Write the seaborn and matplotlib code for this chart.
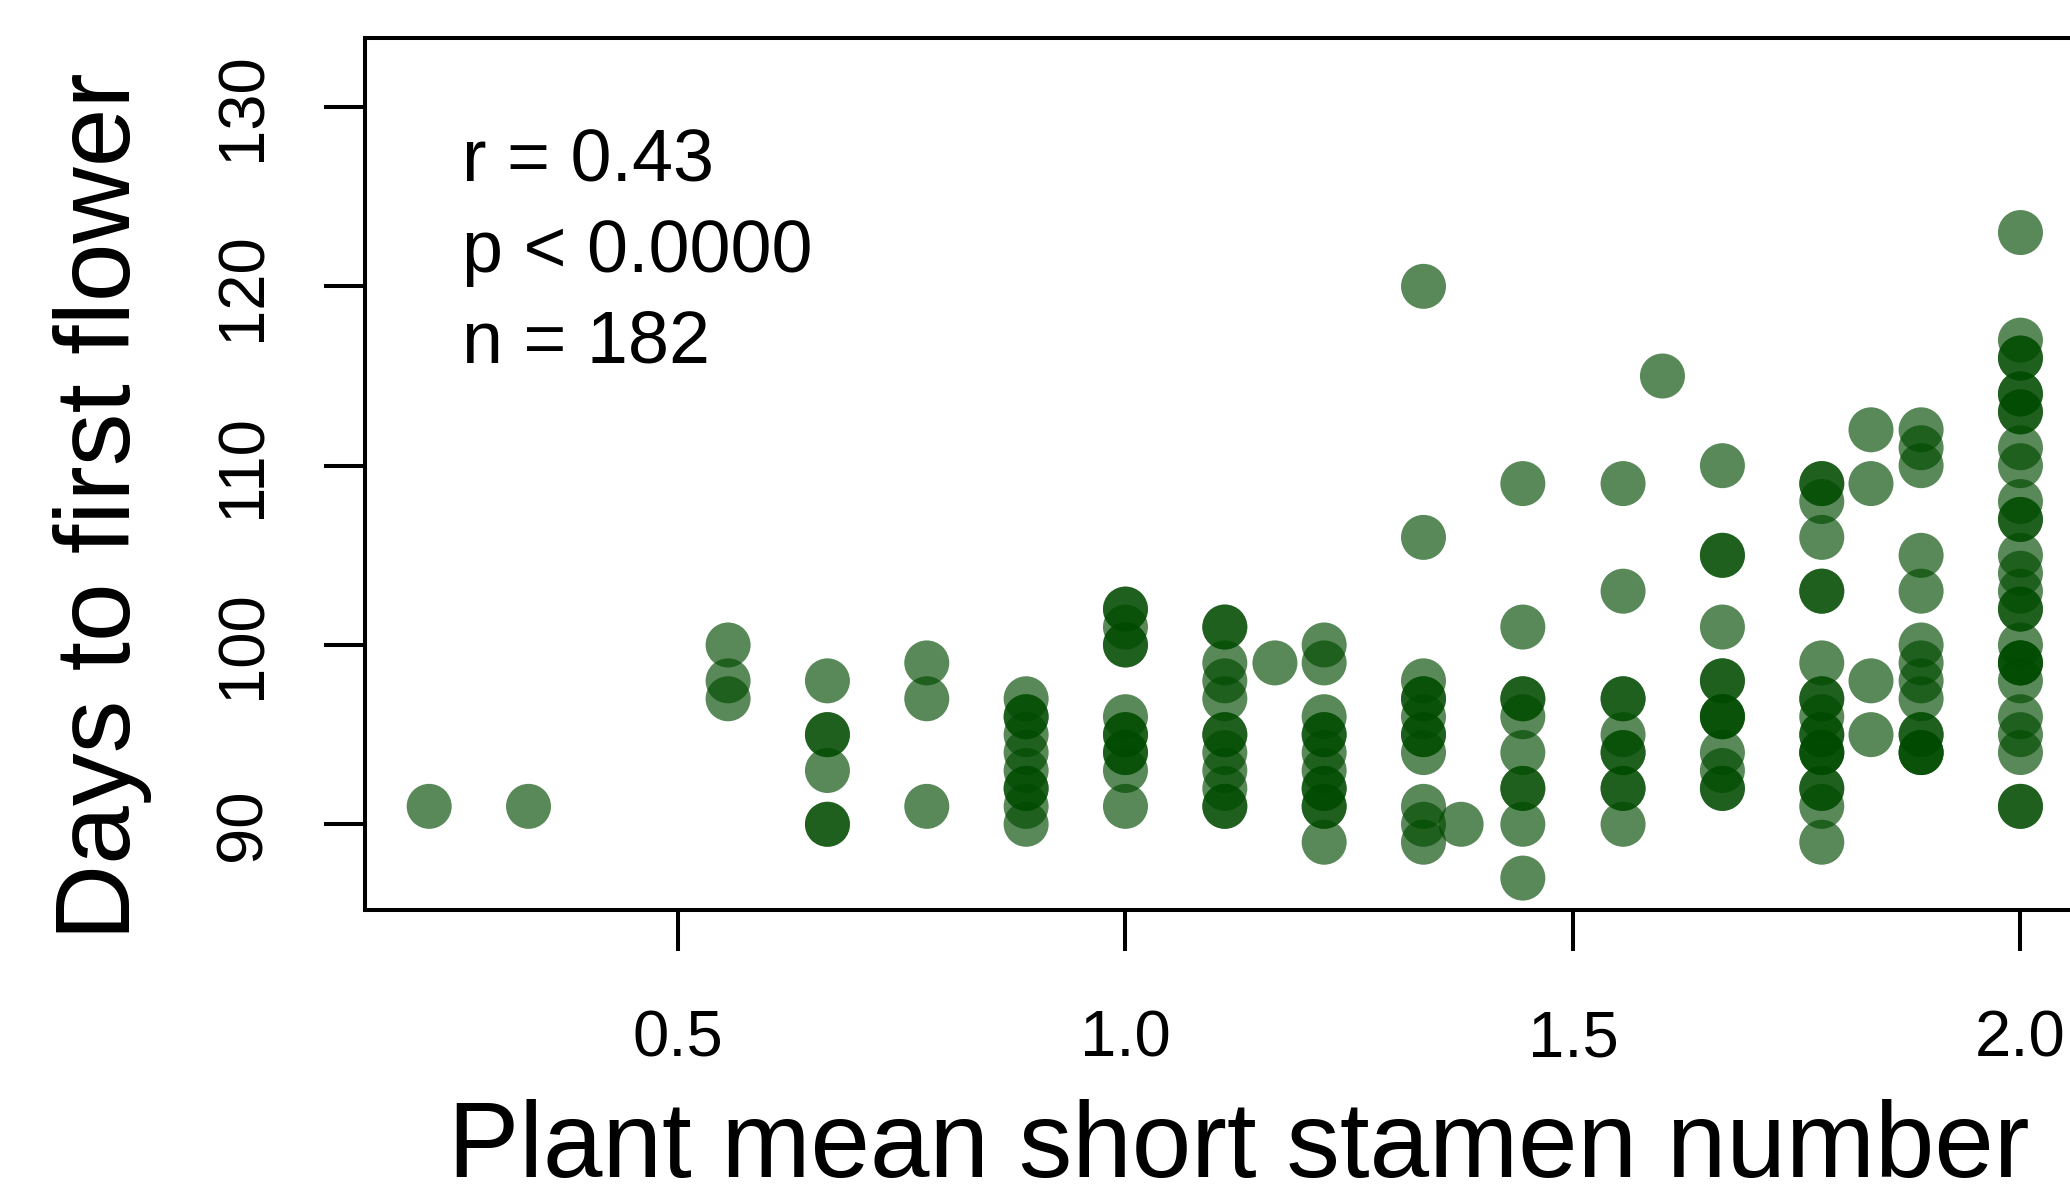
import matplotlib
matplotlib.use("Agg")
import matplotlib.pyplot as plt
import seaborn as sns
import pandas as pd

# ---- data ----
stamen_levels = [0.222, 0.333, 0.556, 0.667, 0.778, 0.889, 1.0, 1.111, 1.167, 1.222,
                 1.333, 1.375, 1.444, 1.556, 1.6, 1.667, 1.778, 1.833, 1.889, 2.0]

days_0222 = [91]
days_0333 = [91]
days_0556 = [100, 98, 97]
days_0667 = [98, 95, 95, 93, 90, 90]
days_0778 = [99, 97, 91]
days_0889 = [97, 96, 96, 95, 94, 93, 92, 92, 91, 90]
days_1000 = [102, 102, 101, 100, 100, 96, 95, 95, 94, 94, 93, 91]
days_1111 = [101, 101, 99, 98, 97, 95, 95, 94, 93, 92, 91, 91]
days_1167 = [99]
days_1222 = [100, 99, 96, 95, 95, 94, 93, 92, 92, 91, 91, 89]
days_1333 = [120, 106, 98, 97, 97, 96, 95, 95, 94, 91, 90, 89]
days_1375 = [90]
days_1444 = [109, 101, 97, 97, 96, 94, 92, 92, 90, 87]
days_1556 = [109, 103, 97, 97, 95, 94, 94, 92, 92, 90]
days_1600 = [115]
days_1667 = [110, 105, 105, 101, 98, 98, 96, 96, 96, 94, 93, 92, 92]
days_1778 = [109, 109, 108, 106, 103, 103, 99, 97, 97, 96, 95, 95, 94, 94, 94, 92, 92, 91, 89]
days_1833 = [112, 109, 98, 95]
days_1889 = [112, 111, 110, 105, 103, 100, 99, 98, 97, 95, 95, 94, 94, 94]
days_2000 = [123, 117, 116, 116, 114, 114, 113, 113, 111, 110, 108, 107, 107, 105, 104,
             103, 102, 102, 100, 99, 99, 99, 98, 96, 95, 94, 91, 91]

day_groups = [days_0222, days_0333, days_0556, days_0667, days_0778, days_0889,
              days_1000, days_1111, days_1167, days_1222, days_1333, days_1375,
              days_1444, days_1556, days_1600, days_1667, days_1778, days_1833,
              days_1889, days_2000]

x_ticks = [0.5, 1.0, 1.5, 2.0]
x_ticklabels = ["0.5", "1.0", "1.5", "2.0"]
y_ticks = [90, 100, 110, 120, 130]
y_ticklabels = ["90", "100", "110", "120", "130"]
stats_lines = ["r = 0.43", "p < 0.0000", "n = 182"]

rows = []
for lvl, grp in zip(stamen_levels, day_groups):
    for d in grp:
        rows.append((lvl, d))
df = pd.DataFrame(rows, columns=["stamen", "days"])

# ---- figure ----
W, H = 2070, 1189
sns.set_style("ticks")
plt.rcParams["font.family"] = ["Liberation Sans", "DejaVu Sans"]
plt.rcParams["text.color"] = "black"
plt.rcParams["axes.labelcolor"] = "black"
plt.rcParams["xtick.color"] = "black"
plt.rcParams["ytick.color"] = "black"
plt.rcParams["axes.edgecolor"] = "black"

fig = plt.figure(figsize=(W / 100, H / 100), dpi=100)
ax_left, ax_right, ax_top, ax_bottom = 365, 2084, 38, 910
ax = fig.add_axes([ax_left / W, 1 - ax_bottom / H,
                   (ax_right - ax_left) / W, (ax_bottom - ax_top) / H])

sns.scatterplot(data=df, x="stamen", y="days", ax=ax, color="#004a00",
                alpha=0.65, s=1050, edgecolor="none", linewidth=0, legend=False)

ax.set_xlim(0.1503, 2.071)
ax.set_ylim(85.22, 133.85)
ax.set_xticks(x_ticks)
ax.set_xticklabels(x_ticklabels)
ax.set_yticks(y_ticks)
ax.set_yticklabels(y_ticklabels)
ax.set_xlabel("")
ax.set_ylabel("")

for sp in ax.spines.values():
    sp.set_linewidth(2.9)
    sp.set_color("black")
    sp.set_visible(True)

ax.tick_params(axis="both", length=29.5, width=2.9, direction="out",
               labelsize=47, colors="black", labelcolor="black")
ax.tick_params(axis="x", pad=76)
ax.tick_params(axis="y", pad=46)
for lab in ax.get_xticklabels():
    lab.set_va("baseline")
    lab.set_color("black")
for lab in ax.get_yticklabels():
    lab.set_rotation(90)
    lab.set_rotation_mode("anchor")
    lab.set_ha("center")
    lab.set_va("baseline")
    lab.set_color("black")

# stats text
for i, line in enumerate(stats_lines):
    fig.text(462 / W, 1 - (182 + 90 * i) / H, line, fontsize=53,
             ha="left", va="baseline", color="black")

# axis titles
fig.text(1239 / W, 1 - 1177 / H, "Plant mean short stamen number",
         fontsize=77, ha="center", va="baseline", color="black")
fig.text(130 / W, 1 - 506 / H, "Days to first flower", fontsize=76,
         ha="center", va="baseline", rotation=90, rotation_mode="anchor",
         color="black")

fig.savefig("out.png", dpi=100, facecolor="white")
